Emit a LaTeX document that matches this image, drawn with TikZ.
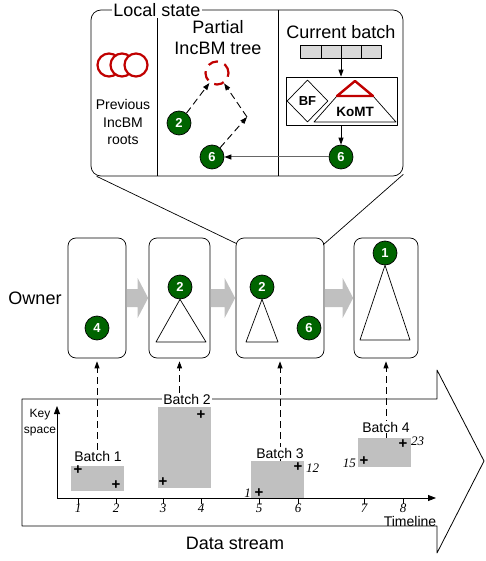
\documentclass[tikz,border=0pt]{standalone}
\usepackage{fontspec}
\setmainfont{Liberation Sans}
\newfontfamily\serifnum{Liberation Serif}
\usetikzlibrary{arrows.meta, shapes.geometric, calc}

\definecolor{darkgreen}{RGB}{0,100,0}
\definecolor{rootred}{RGB}{192,0,0}
\definecolor{batchgray}{RGB}{192,192,192}
\definecolor{cellgray}{RGB}{217,217,217}

\tikzset{
  keynode/.style={circle, draw=black, line width=0.7pt, fill=darkgreen, text=white,
    inner sep=0pt, minimum size=24pt, font=\fontsize{13}{13}\selectfont\bfseries},
  ownerbox/.style={draw, rounded corners=8pt, line width=0.7pt, inner sep=0pt, minimum height=120pt},
  dasharrow/.style={dash pattern=on 7pt off 4pt, line width=0.9pt, -{Triangle[length=7pt,width=5pt]}},
  solidarrow/.style={line width=0.8pt, -{Triangle[length=7pt,width=5pt]}},
  keypoint/.style={inner sep=0pt, font=\fontsize{15}{15}\selectfont\bfseries},
  ticklabel/.style={font=\serifnum\itshape\fontsize{13}{13}\selectfont},
  batchlabel/.style={inner sep=1pt, font=\fontsize{14}{14}\selectfont},
  batchbox/.style={fill=batchgray, inner sep=0pt, minimum width=53pt},
}

\begin{document}
\begin{tikzpicture}[x=1pt, y=-1pt, line join=round]
\useasboundingbox (0,0) rectangle (486,561);

% local state of one owner
\node[draw, rounded corners=10pt, line width=0.7pt, inner sep=0pt,
  minimum width=312pt, minimum height=166pt] (local) at (247,93) {};
\draw[line width=0.7pt] (157,10) -- (157,176);
\draw[line width=0.7pt] (278,10) -- (278,176);
\node[fill=white, inner sep=1pt, font=\fontsize{18}{18}\selectfont] (title) at (157,10) {Local state};

\foreach \x in {109,122,136}
  \draw[rootred, line width=2.2pt, fill=white] (\x,65) circle (11.5);
\node[align=center, font=\fontsize{14}{17.5}\selectfont] (prevroots) at (123,122) {Previous\\IncBM\\roots};

\node[align=center, font=\fontsize{18}{21}\selectfont] (partial) at (218,38) {Partial\\IncBM tree};
\node[circle, draw=rootred, line width=2.2pt, dash pattern=on 10pt off 7pt,
  minimum size=23pt, inner sep=0pt] (pending) at (217,73) {};
\node[keynode] (p2) at (179,123) {2};
\node[keynode] (p6) at (212,157) {6};
\coordinate (bend) at (247,117);
\draw[dasharrow] (p2) -- (pending);
\draw[dasharrow] (p6) -- (bend);
\draw[dasharrow] (bend) -- (pending);

\node[font=\fontsize{18}{18}\selectfont] (curbatch) at (341,32) {Current batch};
\node[draw, fill=cellgray, line width=0.7pt, inner sep=0pt,
  minimum width=81pt, minimum height=13pt] (cells) at (341,51.5) {};
\foreach \x in {321,341,361}
  \draw[line width=0.7pt] (\x,45) -- (\x,58);
\node[draw, line width=0.7pt, inner sep=0pt, minimum width=111pt, minimum height=48pt] (filter) at (341.5,101) {};
\node[diamond, draw, line width=0.7pt, inner sep=0pt, minimum width=41pt, minimum height=42pt,
  font=\fontsize{13}{13}\selectfont\bfseries] (bf) at (307.5,101) {BF};
\draw[line width=0.7pt] (337,96) -- (314,122) -- (396,122) -- (373,96);
\draw[rootred, line width=2.4pt, fill=white] (337,96) -- (355,81) -- (373,96) -- cycle;
\node[font=\fontsize{13.5}{13.5}\selectfont\bfseries] (komt) at (355,112) {KoMT};
\node[keynode] (c6) at (341,157) {6};
\draw[solidarrow] (cells) -- (cells |- filter.north);
\draw[solidarrow] (c6 |- filter.south) -- (c6);
\draw[line width=1pt, draw=gray!80!black, -{Triangle[length=7pt,width=5pt,color=black]}] (c6) -- (p6);

% owners
\node[font=\fontsize{18}{18}\selectfont] (ownerlab) at (35,298) {Owner};
\node[ownerbox, minimum width=58pt] (own1) at (97,298) {};
\node[ownerbox, minimum width=61pt] (own2) at (179.5,298) {};
\node[ownerbox, minimum width=88pt] (own3) at (280,298) {};
\node[ownerbox, minimum width=64pt] (own4) at (386,298) {};

\draw[line width=0.7pt] ($(local.south west)+(6,0)$) -- ($(own3.north west)+(1,6)$);
\draw[line width=0.7pt] ($(local.south east)+(0,-2)$) -- ($(own3.north east)+(-1,7)$);

\foreach \a/\b in {own1/own2, own2/own3, own3/own4}
  \fill[batchgray] ($(\a.east)+(0.5,-9)$) -- ($(\b.west)+(-11,-9)$) -- ($(\b.west)+(-11,-20)$)
    -- ($(\b.west)+(-0.5,0)$) -- ($(\b.west)+(-11,20)$) -- ($(\b.west)+(-11,9)$) -- ($(\a.east)+(0.5,9)$) -- cycle;

\node[keynode] (o4) at (97,328) {4};
\node[keynode] (o2a) at (180,287) {2};
\draw[line width=0.7pt] (o2a.south) -- (156,342) -- (206,342) -- cycle;
\node[keynode] (o2b) at (262,287) {2};
\draw[line width=0.7pt] (o2b.south) -- (246,342) -- (278,342) -- cycle;
\node[keynode] (o6) at (309,328) {6};
\node[keynode] (o1) at (385,253) {1};
\draw[line width=0.7pt] (o1.south) -- (360,340) -- (410,340) -- cycle;

% data stream
\draw[line width=0.8pt] (22,399) -- (437,399) -- (437,370) -- (484,461) -- (437,553) -- (437,526) -- (22,526) -- cycle;
\node[font=\fontsize{18}{18}\selectfont] (stream) at (235,543) {Data stream};

\node[batchbox, minimum height=25pt] (batch1) at (97.5,478.5) {};
\node[batchbox, minimum height=81pt] (batch2) at (184.5,447.5) {};
\node[batchbox, minimum height=37pt] (batch3) at (277.5,479.5) {};
\node[batchbox, minimum height=29pt] (batch4) at (384.5,452.5) {};

\coordinate (origin) at (57,498);
\draw[line width=0.8pt, -{Triangle[length=8pt,width=6pt]}] (origin) -- (436,498);
\draw[line width=0.8pt, -{Triangle[length=8pt,width=6pt]}] (origin) -- (57,406);
\node[align=center, font=\fontsize{12}{16}\selectfont] (keyspace) at (40,423) {Key\\space};
\node[font=\fontsize{14}{14}\selectfont] (timeline) at (410,521) {Timeline};
\foreach \x/\t in {78/1,116/2,163/3,201/4,259/5,298/6,364/7,403/8} {
  \draw[line width=0.8pt] (\x,498) -- (\x,504);
  \node[ticklabel] (t\t) at (\x,508) {\t};
}

\node[keypoint] (k1) at (78,470) {+};
\node[keypoint] (k2) at (116,485) {+};
\node[keypoint] (k3) at (163,482) {+};
\node[keypoint] (k4) at (201,415) {+};
\node[keypoint] (k5) at (259,493) {+};
\node[keypoint] (k6) at (298,467) {+};
\node[keypoint] (k7) at (364,461) {+};
\node[keypoint] (k8) at (403,444) {+};
\node[ticklabel, left] (v1) at (k5.west) {1};
\node[ticklabel, right] (v12) at ([yshift=-1pt]k6.east) {12};
\node[ticklabel, left] (v15) at ([yshift=-2pt]k7.west) {15};
\node[ticklabel, right] (v23) at ([yshift=3pt]k8.east) {23};

\draw[dasharrow, shorten >=3pt] (own3.south |- batch3.north) -- (own3.south);
\draw[dasharrow, shorten >=3pt] (own4.south |- batch4.north) -- (own4.south);
\node[batchlabel] (lab1) at (98,456) {Batch 1};
\node[batchlabel, fill=white] (lab2) at (187,399) {Batch 2};
\node[batchlabel, fill=white] (lab3) at (280,453) {Batch 3};
\node[batchlabel, fill=white] (lab4) at (386,427) {Batch 4};
\draw[dasharrow, shorten >=3pt] (own1.south |- lab1.north) -- (own1.south);
\draw[dasharrow, shorten >=3pt] (own2.south |- lab2.north) -- (own2.south);
\end{tikzpicture}
\end{document}
